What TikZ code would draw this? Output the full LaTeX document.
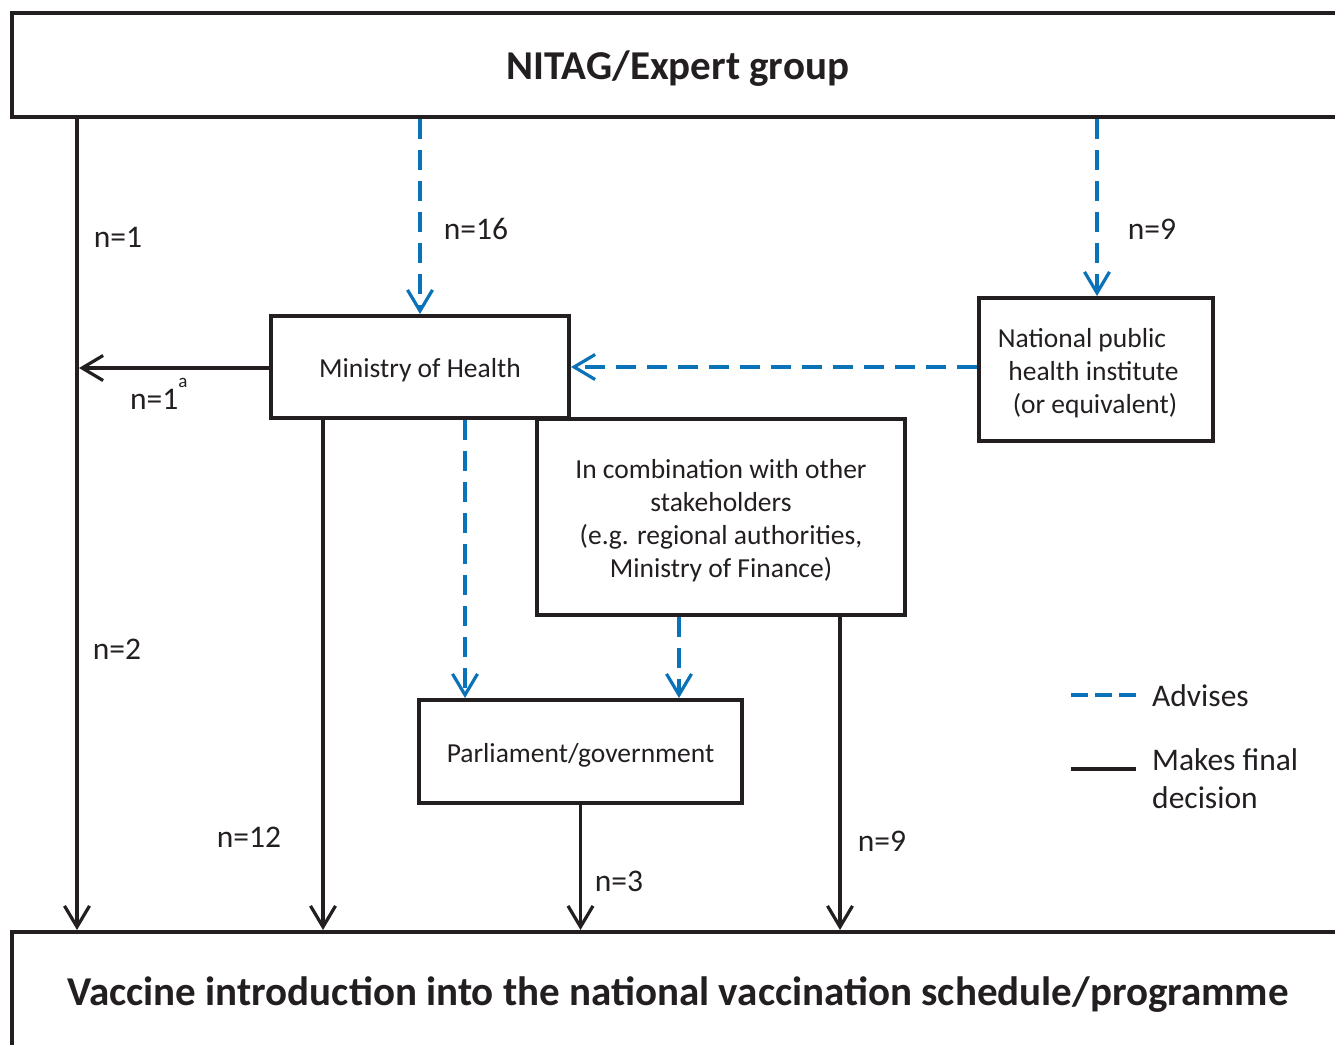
\documentclass[tikz,border=0pt]{standalone}
\usepackage{fontspec}
\setmainfont{Carlito}
\usetikzlibrary{arrows.meta}
\definecolor{dark}{HTML}{231F20}
\definecolor{advblue}{HTML}{0A72B8}
\newcommand\dnstrut{\rule{0pt}{\dimexpr\fontcharht\font`(+6pt\relax}}
\tikzset{
  box/.style={draw=dark, line width=4pt, inner sep=0pt, align=center, text=dark,
    font=\fontsize{27.5}{33}\selectfont, fill=white},
  bigbox/.style={draw=dark, line width=4pt, inner sep=0pt, align=center, text=dark,
    font=\fontsize{41}{45}\selectfont\bfseries},
  tipv/.tip={Straight Barb[length=21pt,width=25pt]},
  decide/.style={draw=dark, line width=3.2pt, -tipv},
  advise/.style={draw=advblue, line width=3.2pt, dash pattern=on 20pt off 11pt, -tipv},
  nlab/.style={text=dark, font=\fontsize{31.5}{36}\selectfont, inner sep=0pt},
}
\begin{document}
\begin{tikzpicture}[x=1pt,y=-1pt]
\useasboundingbox (0,0) rectangle (1335,1044);
\clip (0,0) rectangle (1335,1044);
\fill[white] (0,0) rectangle (1335,1044);

% boxes
\node[bigbox, minimum width=1332pt, minimum height=104pt] (nitag) at (678,65) {\dnstrut NITAG/Expert group};
\node[bigbox, minimum width=1332pt, minimum height=118pt] (vacc) at (678,991) {\dnstrut Vaccine introduction into the national vaccination schedule/programme};
\node[box, minimum width=298pt, minimum height=102pt] (moh) at (420,367) {\dnstrut Ministry of Health};
\node[box, minimum width=234pt, minimum height=143pt] (nphi) at (1096,369.5) {\dnstrut\hspace*{-28pt}National public\\\hspace*{-5pt}health institute\\\hspace*{-2pt}(or equivalent)};
\node[box, minimum width=368pt, minimum height=196pt] (comb) at (721,517) {\dnstrut In combination with other\\stakeholders\\(e.g. regional authorities,\\Ministry of Finance)};
\node[box, minimum width=323pt, minimum height=103pt] (parl) at (580.5,751.5) {\dnstrut Parliament/government};

% helper coordinates
\coordinate (xl) at (77,0);
\coordinate (xm1) at (323,0);
\coordinate (xm2) at (465,0);
\coordinate (xc1) at (679,0);
\coordinate (xc2) at (840,0);
\coordinate (xn) at (1097,0);
\coordinate (mohend) at (79,368);

% advises
\draw[advise] (moh.north |- nitag.south) -- (moh.north);
\draw[advise] (xn |- nitag.south) -- (xn |- nphi.north);
\draw[advise] (nphi.west |- moh.east) -- (moh.east);
\draw[advise] (xm2 |- moh.south) -- (xm2 |- parl.north);
\draw[advise] (xc1 |- comb.south) -- (xc1 |- parl.north);

% decisions
\draw[decide] (xl |- nitag.south) -- (xl |- vacc.north);
\draw[decide] (moh.west |- mohend) -- (mohend);
\draw[decide] (xm1 |- moh.south) -- (xm1 |- vacc.north);
\draw[decide] (parl.south) -- (parl.south |- vacc.north);
\draw[decide] (xc2 |- comb.south) -- (xc2 |- vacc.north);

% labels
\node[nlab] (l1) at (118,237) {n=1};
\node[nlab] (l16) at (476,229) {n=16};
\node[nlab] (l9a) at (1152,229) {n=9};
\node[nlab, anchor=base west] (l1a) at (130,409) {n=1\raisebox{22pt}{\fontsize{19}{19}\selectfont a}};
\node[nlab] (l2) at (117,649) {n=2};
\node[nlab] (l12) at (249,837) {n=12};
\node[nlab] (l3) at (619,881) {n=3};
\node[nlab] (l9b) at (882,841) {n=9};

% legend
\coordinate (lg1a) at (1071,695);
\coordinate (lg1b) at (1136,695);
\coordinate (lg2a) at (1071,769);
\coordinate (lg2b) at (1136,769);
\draw[draw=advblue, line width=3.2pt, dash pattern=on 17pt off 7pt] (lg1a) -- (lg1b);
\draw[draw=dark, line width=3.2pt] (lg2a) -- (lg2b);
\node[nlab, anchor=west] (adv) at (1152,696) {Advises};
\node[nlab, anchor=north west, align=left, font=\fontsize{31.5}{38}\selectfont] (mfd) at (1152,748) {Makes final\\decision};
\end{tikzpicture}
\end{document}
